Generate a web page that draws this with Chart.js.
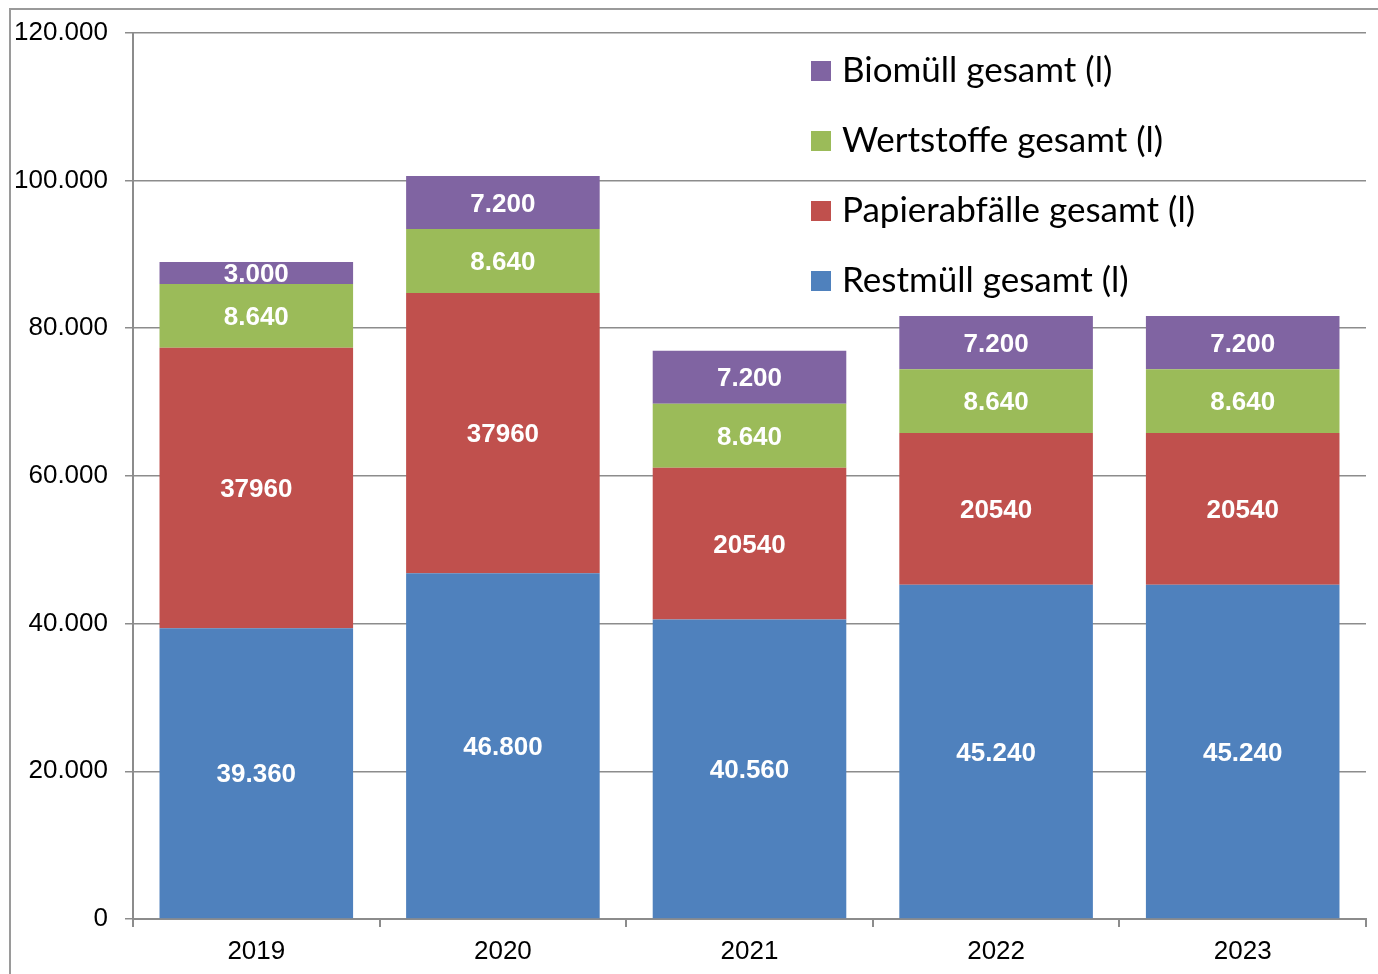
<!DOCTYPE html>
<html>
<head>
<meta charset="utf-8">
<script src="https://cdn.jsdelivr.net/npm/chart.js@4"></script>
<style>
  html, body { margin: 0; padding: 0; background: #fff; }
  #wrap { width: 1378px; height: 974px; position: relative; }
</style>
</head>
<body>
<div id="wrap"><canvas id="chart" width="1378" height="974"></canvas></div>
<script>
// chart data
const years = ['2019', '2020', '2021', '2022', '2023'];
const restmuell = [39360, 46800, 40560, 45240, 45240];
const papier = [37960, 37960, 20540, 20540, 20540];
const wertstoffe = [8640, 8640, 8640, 8640, 8640];
const biomuell = [3000, 7200, 7200, 7200, 7200];
const yTicks = [0, 20000, 40000, 60000, 80000, 100000, 120000];

// German thousands separator
function fmt(v) {
    return String(v).replace(/\B(?=(\d{3})+(?!\d))/g, '.');
}

// draws the grey frame round the chart
const framePlugin = {
    id: 'frame',
    beforeDraw(chart) {
        const ctx = chart.ctx;
        ctx.save();
        ctx.strokeStyle = '#9a9a9a';
        ctx.lineWidth = 2;
        ctx.strokeRect(10, 9, chart.width + 20, chart.height + 20);
        ctx.restore();
    }
};

// white value labels in the middle of each bar segment
const valueLabels = {
    id: 'valueLabels',
    afterDatasetsDraw(chart) {
        const ctx = chart.ctx;
        ctx.save();
        ctx.font = 'bold 26px "Liberation Sans", Arial, sans-serif';
        ctx.fillStyle = '#ffffff';
        ctx.textAlign = 'center';
        ctx.textBaseline = 'middle';
        chart.data.datasets.forEach((ds, i) => {
            const meta = chart.getDatasetMeta(i);
            meta.data.forEach((bar, j) => {
                const text = ds.plain ? String(ds.data[j]) : fmt(ds.data[j]);
                ctx.fillText(text, bar.x, (bar.y + bar.base) / 2 + 2);
            });
        });
        ctx.restore();
    }
};

// legend inside the plot, top series first
const insideLegend = {
    id: 'insideLegend',
    afterDraw(chart) {
        const ctx = chart.ctx;
        const items = chart.data.datasets.slice().reverse();
        ctx.save();
        ctx.font = '35px Lato, "Open Sans", sans-serif';
        ctx.textBaseline = 'middle';
        ctx.textAlign = 'left';
        items.forEach((ds, k) => {
            const y = 71 + k * 70;
            ctx.fillStyle = ds.backgroundColor;
            ctx.fillRect(811, y - 10, 20, 20);
            ctx.fillStyle = '#000';
            ctx.fillText(ds.label, 842, y);
        });
        ctx.restore();
    }
};

const ctx = document.getElementById('chart').getContext('2d');
new Chart(ctx, {
    type: 'bar',
    data: {
        labels: years,
        datasets: [
            { label: 'Restmüll gesamt (l)', data: restmuell, backgroundColor: '#4F81BD' },
            { label: 'Papierabfälle gesamt (l)', data: papier, backgroundColor: '#C0504D', plain: true },
            { label: 'Wertstoffe gesamt (l)', data: wertstoffe, backgroundColor: '#9BBB59' },
            { label: 'Biomüll gesamt (l)', data: biomuell, backgroundColor: '#8064A2' }
        ]
    },
    options: {
        responsive: false,
        animation: false,
        layout: { padding: { left: 0, top: 30, right: 12, bottom: 0 } },
        datasets: { bar: { barPercentage: 0.785, categoryPercentage: 1 } },
        plugins: {
            legend: { display: false },
            tooltip: { enabled: false }
        },
        scales: {
            x: {
                stacked: true,
                grid: { offset: true, drawOnChartArea: false, color: '#8c8c8c', lineWidth: 2, tickLength: 8 },
                border: { color: '#8c8c8c', width: 2 },
                ticks: { color: '#000', font: { family: '"Liberation Sans", Arial', size: 26 }, padding: 9 },
                afterFit(scale) { scale.height = 55; }
            },
            y: {
                stacked: true,
                min: 0,
                max: 120000,
                afterBuildTicks(scale) { scale.ticks = yTicks.map(v => ({ value: v })); },
                grid: { color: '#8c8c8c', lineWidth: 1.5, tickLength: 8 },
                border: { color: '#8c8c8c', width: 2 },
                ticks: {
                    color: '#000',
                    font: { family: '"Liberation Sans", Arial', size: 26 },
                    padding: 17,
                    callback: v => fmt(v)
                },
                afterFit(scale) { scale.width = 133; }
            }
        }
    },
    plugins: [framePlugin, valueLabels, insideLegend]
});
</script>
</body>
</html>
